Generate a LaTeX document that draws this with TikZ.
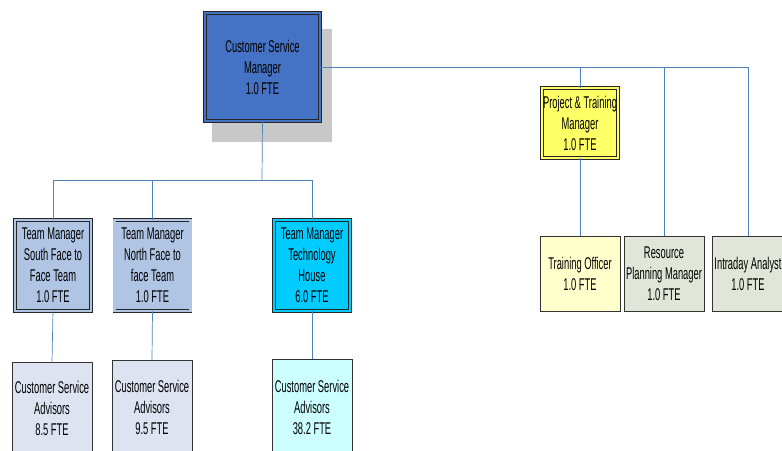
\documentclass[tikz,border=0pt]{standalone}
\usepackage{fontspec}
\setmainfont{Liberation Sans}[FakeStretch=0.55]
\definecolor{linkblue}{RGB}{79,129,189}
\definecolor{topblue}{RGB}{68,114,196}
\definecolor{tmblue}{RGB}{176,196,228}
\definecolor{tmcyan}{RGB}{0,204,255}
\definecolor{advblue}{RGB}{221,227,240}
\definecolor{advcyan}{RGB}{204,255,255}
\definecolor{pmyellow}{RGB}{255,255,102}
\definecolor{toyellow}{RGB}{255,255,204}
\definecolor{grgreen}{RGB}{224,230,216}
\definecolor{shadowgray}{RGB}{200,200,200}
\tikzset{
  boxbase/.style={rectangle, inner sep=0pt, align=center, text=black,
    font=\fontsize{17}{21}\selectfont},
  dblbox/.style={boxbase, draw=black!85, line width=0.6pt, double=#1, double distance=2.2pt, fill=#1},
  sglbox/.style={boxbase, draw=black!80, line width=0.6pt, fill=#1},
  link/.style={draw=linkblue, line width=0.7pt}
}
\begin{document}
\begin{tikzpicture}[x=1pt,y=-1pt]
\useasboundingbox (0,0) rectangle (782,450);
% shadow of the top box
\fill[shadowgray] (212,29) rectangle (332,142);
% junction of the left branch
\coordinate (jleft) at (262,180);
% nodes
\node[dblbox=topblue, minimum width=115pt, minimum height=108pt] (csm) at (262.5,67) {Customer Service\\Manager\\1.0 FTE};
\node[dblbox=tmblue, minimum width=76pt, minimum height=91pt] (tms) at (53,265.5) {Team Manager\\South Face to\\Face Team\\1.0 FTE};
\node[dblbox=tmblue, minimum width=76pt, minimum height=91pt] (tmn) at (152.5,265.5) {Team Manager\\North Face to\\face Team\\1.0 FTE};
\node[dblbox=tmcyan, minimum width=76pt, minimum height=91pt] (tmt) at (312,265.5) {Team Manager\\Technology\\House\\6.0 FTE};
\node[sglbox=advblue, minimum width=80pt, minimum height=92pt] (advs) at (52,408) {Customer Service\\Advisors\\8.5 FTE};
\node[sglbox=advblue, minimum width=80pt, minimum height=94pt] (advn) at (152,407) {Customer Service\\Advisors\\9.5 FTE};
\node[sglbox=advcyan, minimum width=80pt, minimum height=96pt] (advt) at (312,407) {Customer Service\\Advisors\\38.2 FTE};
\node[dblbox=pmyellow, minimum width=76pt, minimum height=70pt] (ptm) at (580,123) {Project \& Training\\Manager\\1.0 FTE};
\node[sglbox=toyellow, minimum width=80pt, minimum height=75pt] (to) at (580,273.5) {Training Officer\\1.0 FTE};
\node[sglbox=grgreen, minimum width=80pt, minimum height=75pt] (rpm) at (664,273.5) {Resource\\Planning Manager\\1.0 FTE};
\node[sglbox=grgreen, minimum width=72pt, minimum height=75pt] (ia) at (748,273.5) {Intraday Analyst\\1.0 FTE};
% connectors
\path[link] (csm.south) -- (jleft);
\path[link] (tms.north) |- (jleft);
\path[link] (tmn.north) |- (jleft);
\path[link] (tmt.north) |- (jleft);
\path[link] (tms.south) -- (advs.north);
\path[link] (tmn.south) -- (advn.north);
\path[link] (tmt.south) -- (advt.north);
\path[link] (csm.east) -| (ia.north);
\path[link] (ptm.north) |- (csm.east);
\path[link] (rpm.north) |- (csm.east);
\path[link] (ptm.south) -- (to.north);
\end{tikzpicture}
\end{document}
